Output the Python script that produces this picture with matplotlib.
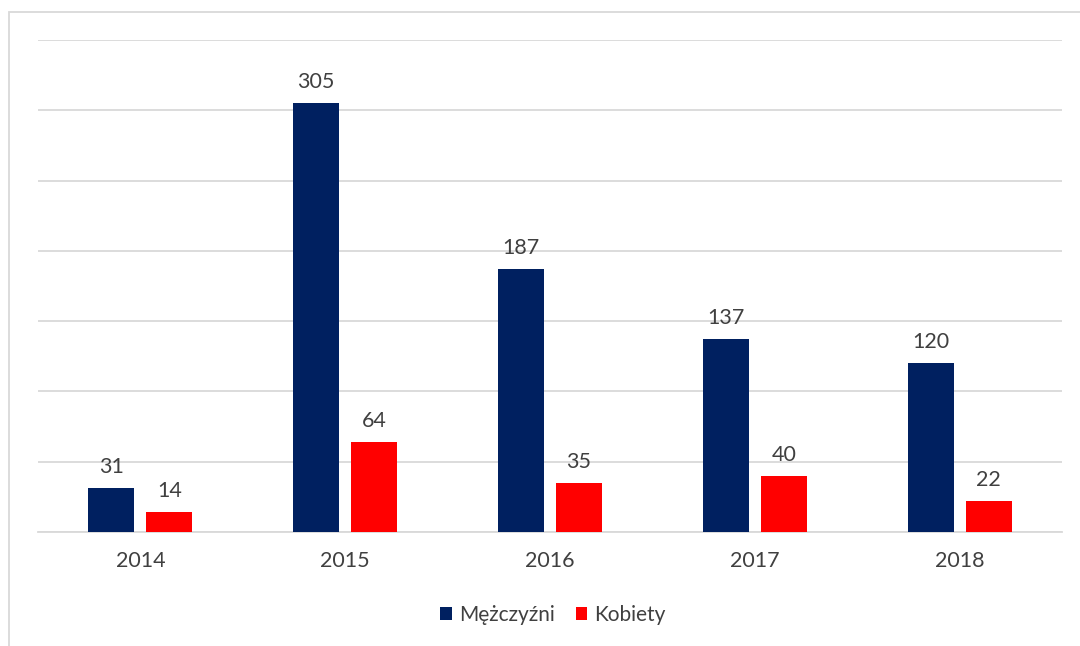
import matplotlib
matplotlib.use("Agg")
import matplotlib.pyplot as plt
from matplotlib.patches import Rectangle
import numpy as np

years = ["2014", "2015", "2016", "2017", "2018"]
men = [31, 305, 187, 137, 120]
women = [14, 64, 35, 40, 22]
series_names = ["Mężczyźni", "Kobiety"]

plt.rcParams['font.family'] = ['Lato', 'DejaVu Sans']
text_color = "#404040"

W, H = 1080, 646
fig = plt.figure(figsize=(W / 100, H / 100), dpi=100)
fig.patch.set_facecolor("white")

# outer chart border (partially cropped)
fig.add_artist(Rectangle((8.5 / W, -0.1), 1.2, 1 - 11.5 / H + 0.1,
                         transform=fig.transFigure, fill=False,
                         edgecolor="#D9D9D9", linewidth=1.3))

ax = fig.add_axes([38 / W, 1 - 532 / H, (1062 - 38) / W, (532 - 40) / H])
x = np.arange(len(years))
bw = 0.2246
off = 0.1416
b1 = ax.bar(x - off, men, bw, color="#002060", label=series_names[0], zorder=3)
b2 = ax.bar(x + off, women, bw, color="#FF0000", label=series_names[1], zorder=3)

for bars in (b1, b2):
    for rect in bars:
        h = rect.get_height()
        ax.annotate(f"{int(h)}", (rect.get_x() + rect.get_width() / 2, h),
                    xytext=(0, 8), textcoords="offset points",
                    ha="center", va="bottom", fontsize=15.5, color=text_color)

ax.set_xlim(-0.5, len(years) - 0.5)
ax.set_ylim(0, 350)
ax.set_yticks(np.arange(0, 351, 50))
ax.yaxis.grid(True, color="#D9D9D9", linewidth=1.3, zorder=0)
ax.set_yticklabels([])
ax.tick_params(axis="y", length=0)
ax.set_xticks(x)
ax.set_xticklabels(years, fontsize=15.5, color=text_color)
ax.tick_params(axis="x", length=0, pad=14)
for s in ["top", "right", "left"]:
    ax.spines[s].set_visible(False)
ax.spines["bottom"].set_color("#D9D9D9")
ax.spines["bottom"].set_linewidth(1.3)
ax.set_facecolor("none")

leg = fig.legend(handles=[b1, b2], labels=series_names, loc="center",
                 bbox_to_anchor=(553 / W, 1 - 615 / H), ncol=2, frameon=False,
                 fontsize=15, handlelength=0.55, handleheight=0.55,
                 handletextpad=0.35, columnspacing=1.0)
for t in leg.get_texts():
    t.set_color(text_color)

fig.savefig("out.png", dpi=100)
